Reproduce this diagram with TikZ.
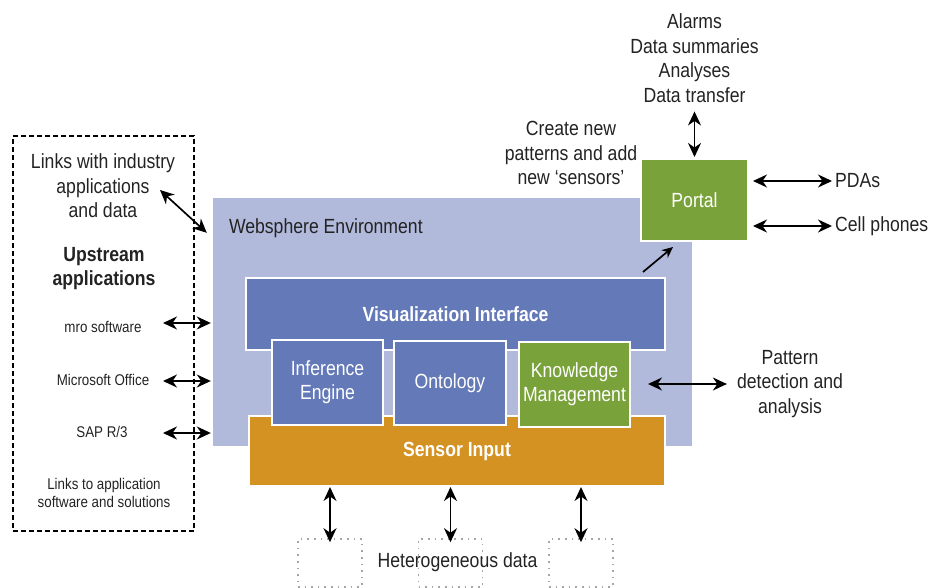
\documentclass[tikz,border=0pt]{standalone}
\usepackage{fontspec}
\setmainfont[FakeStretch=0.86]{Liberation Sans}
\usetikzlibrary{arrows.meta}
\definecolor{lav}{RGB}{178,186,220}
\definecolor{vblue}{RGB}{100,121,184}
\definecolor{sorange}{RGB}{211,146,34}
\definecolor{kgreen}{RGB}{122,162,59}
\definecolor{txt}{RGB}{35,35,35}
\definecolor{dotgrey}{RGB}{165,165,165}
\begin{document}
\begin{tikzpicture}[x=1pt,y=-1pt,
  box/.style={rectangle,inner sep=0pt,outer sep=0pt,draw=white,line width=1.5pt,text=white,align=center,font=\fontsize{20.5}{24}\selectfont},
  lbl/.style={inner sep=0pt,text=txt,font=\fontsize{20.5}{24.5}\selectfont,align=center},
  smalllbl/.style={inner sep=0pt,text=txt,font=\fontsize{15.5}{18}\selectfont,align=center},
  arr/.style={{Stealth[length=14pt,width=13pt,inset=4.5pt]}-{Stealth[length=14pt,width=13pt,inset=4.5pt]},line width=1.7pt,black},
  onearr/.style={-{Stealth[length=11pt,width=10pt,inset=3.5pt]},line width=1.7pt,black},
  dotbox/.style={rectangle,draw=dotgrey,line width=1.6pt,dash pattern=on 1.6pt off 5pt,minimum width=64pt,minimum height=48pt,inner sep=0pt},
  dashbox/.style={rectangle,draw=black,line width=1.1pt,dash pattern=on 5pt off 3pt,inner sep=0pt}]
\useasboundingbox (0,0) rectangle (936,588);

% upstream dashed panel
\node[dashbox,minimum width=181pt,minimum height=395pt] (panel) at (103.5,333.5) {};

% Websphere environment
\node[rectangle,fill=lav,inner sep=0pt,minimum width=479pt,minimum height=248pt] (web) at (452.5,322) {};
\node[lbl,anchor=west] (webl) at ([shift={(16,30)}]web.north west) {Websphere Environment};

% portal
\node[box,fill=kgreen,minimum width=107pt,minimum height=82pt] (portal) at (694.5,200) {Portal};

% visualization interface
\node[box,fill=vblue,minimum width=419pt,minimum height=72pt,font=\fontsize{20.5}{24}\selectfont\bfseries] (viz) at (455.5,314) {Visualization Interface};
% sensor input
\node[box,fill=sorange,minimum width=416pt,minimum height=70pt,font=\fontsize{20.5}{24}\selectfont\bfseries] (sensor) at (457,451) {Sensor Input};
% inner boxes
\node[box,fill=vblue,minimum width=111pt,minimum height=85pt] (inf) at (327.5,382.5) {Inference\\Engine};
\node[box,fill=vblue,minimum width=112pt,minimum height=84pt] (onto) at (450,383) {Ontology};
\node[box,fill=kgreen,minimum width=111pt,minimum height=85pt] (km) at (574.5,384.5) {Knowledge\\Management};

% heterogeneous data
\node[dotbox] (d1) at (330,563) {};
\node[dotbox] (d2) at (450.5,563) {};
\node[dotbox] (d3) at (581,563) {};
\node[lbl] (het) at (457.5,562) {Heterogeneous data};
\foreach \d in {d1,d2,d3}
  \draw[arr] (\d.north |- sensor.south) ++(0,1) -- ([yshift=-4pt]\d.north);

% top right labels
\node[lbl] (outs) at (694.5,58) {Alarms\\Data summaries\\Analyses\\Data transfer};
\draw[arr] ([yshift=-9pt]outs.south -| portal.north) -- ([yshift=2pt]portal.north);
\node[lbl] (create) at (571,153) {Create new\\patterns and add\\new ‘sensors’};
\node[lbl,anchor=west] (pdas) at (835,181) {PDAs};
\node[lbl,anchor=west] (cell) at (835,226) {Cell phones};
\draw[arr] ([xshift=5pt]portal.east |- pdas.west) -- ([xshift=-3pt]pdas.west);
\draw[arr] ([xshift=5pt]portal.east |- cell.west) -- ([xshift=-3pt]cell.west);
\coordinate (newsens) at (643,272);
\draw[onearr] (newsens) -- ([shift={(32,6)}]portal.south west);

% pattern detection
\node[lbl] (pattern) at (790,384) {Pattern\\detection and\\analysis};
\draw[arr] ([xshift=18pt]km.east |- pattern.west) -- ([xshift=-10pt]pattern.west);

% left panel texts
\node[lbl] (links) at (103,186) {Links with industry\\applications\\and data};
\coordinate (linkend) at (160,190);
\draw[arr] (linkend) -- ([shift={(-6,35)}]web.north west);
\node[lbl,font=\fontsize{20.5}{24}\selectfont\bfseries] (up) at (104,269) {Upstream\\applications};
\node[smalllbl] (mro) at (103,327) {mro software};
\node[smalllbl] (mso) at (103,380) {Microsoft Office};
\node[smalllbl] (sap) at (102,432) {SAP R/3};
\node[smalllbl] (linkapp) at (104,493) {Links to application\\software and solutions};
\foreach \t/\yy in {mro/323,mso/381,sap/433}
  \draw[arr] (163,\yy) -- ([xshift=-2pt]web.west |- 0,\yy);
\end{tikzpicture}
\end{document}
